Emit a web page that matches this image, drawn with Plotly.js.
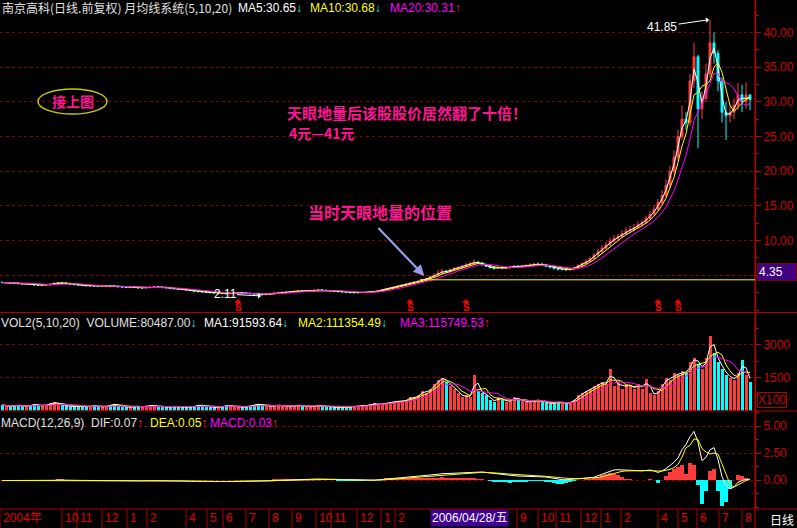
<!DOCTYPE html>
<html><head><meta charset="utf-8">
<script src="https://cdn.plot.ly/plotly-3.0.1.min.js"></script>
<style>html,body{margin:0;padding:0;background:#000;}#chart{width:797px;height:528px;}</style>
</head><body><div id="chart"></div>
<script>
// Each point ~ 2.8 trading days
const openP = [4.0,3.95,3.95,3.9,3.85,3.8,3.75,3.8,3.75,3.6,
3.55,3.6,3.65,3.7,3.85,3.95,3.9,3.8,3.7,3.65,
3.6,3.55,3.5,3.5,3.45,3.4,3.45,3.5,3.45,3.4,
3.35,3.3,3.25,3.3,3.25,3.2,3.2,3.25,3.3,3.35,
3.3,3.25,3.2,3.1,3.05,3.0,2.95,2.9,2.8,2.7,
2.65,2.6,2.55,2.5,2.45,2.45,2.4,2.35,2.4,2.45,
2.5,2.45,2.4,2.35,2.3,2.25,2.2,2.3,2.35,2.45,
2.5,2.55,2.6,2.65,2.7,2.75,2.7,2.7,2.75,2.85,
2.9,2.85,2.8,2.75,2.7,2.65,2.6,2.55,2.5,2.5,
2.5,2.55,2.55,2.6,2.65,2.8,2.95,3.1,3.2,3.35,
3.5,3.6,3.75,3.9,4.05,4.15,4.35,4.5,4.8,5.0,
5.3,5.6,5.5,5.8,6.0,6.1,6.3,6.5,6.7,6.9,
6.8,6.5,6.3,6.1,6.0,6.1,6.0,6.1,6.2,6.3,
6.2,6.3,6.4,6.5,6.6,6.6,6.5,6.3,6.2,6.0,
5.9,5.9,5.8,5.9,6.1,6.4,6.7,7.0,7.4,7.9,
8.4,8.9,9.4,9.9,10.3,10.6,11.0,11.4,11.6,11.9,
12.3,12.6,13.2,13.8,14.5,15.5,16.5,18.0,20.0,22.0,
25.0,27.5,27.0,33.0,36.5,29.0,30.5,34.0,38.5,37.0,
33.0,28.5,28.0,28.5,29.5,31.0,30.0,31.0];
const closeP = [3.95,3.95,3.9,3.85,3.8,3.75,3.8,3.75,3.6,3.55,
3.6,3.65,3.7,3.85,3.95,3.9,3.8,3.7,3.65,3.6,
3.55,3.5,3.5,3.45,3.4,3.45,3.5,3.45,3.4,3.35,
3.3,3.25,3.3,3.25,3.2,3.2,3.25,3.3,3.35,3.3,
3.25,3.2,3.1,3.05,3.0,2.95,2.9,2.8,2.7,2.65,
2.6,2.55,2.5,2.45,2.45,2.4,2.35,2.4,2.45,2.5,
2.45,2.4,2.35,2.3,2.25,2.2,2.3,2.35,2.45,2.5,
2.55,2.6,2.65,2.7,2.75,2.7,2.7,2.75,2.85,2.9,
2.85,2.8,2.75,2.7,2.65,2.6,2.55,2.5,2.5,2.5,
2.55,2.55,2.6,2.65,2.8,2.95,3.1,3.2,3.35,3.5,
3.6,3.75,3.9,4.05,4.15,4.35,4.5,4.8,5.0,5.3,
5.6,5.5,5.8,6.0,6.1,6.3,6.5,6.7,6.9,6.8,
6.5,6.3,6.1,6.0,6.1,6.0,6.1,6.2,6.3,6.2,
6.3,6.4,6.5,6.6,6.6,6.5,6.3,6.2,6.0,5.9,
5.9,5.8,5.9,6.1,6.4,6.7,7.0,7.4,7.9,8.4,
8.9,9.4,9.9,10.3,10.6,11.0,11.4,11.6,11.9,12.3,
12.6,13.2,13.8,14.5,15.5,16.5,18.0,20.0,22.0,25.0,
27.5,27.0,33.0,36.5,29.0,30.5,34.0,38.5,37.0,33.0,
28.5,28.0,28.5,29.5,31.0,30.0,31.0,30.3];
const highP = [4.1,4.05,4.05,4.0,3.95,3.9,3.9,3.9,3.85,3.7,
3.7,3.75,3.8,3.95,4.05,4.05,4.0,3.9,3.8,3.75,
3.7,3.65,3.6,3.6,3.55,3.55,3.6,3.6,3.55,3.5,
3.45,3.4,3.4,3.4,3.35,3.3,3.35,3.4,3.45,3.45,
3.4,3.35,3.3,3.2,3.15,3.1,3.05,3.0,2.9,2.8,
2.75,2.7,2.65,2.6,2.55,2.55,2.5,2.5,2.55,2.6,
2.6,2.55,2.5,2.45,2.4,2.35,2.4,2.45,2.55,2.6,
2.65,2.7,2.75,2.8,2.85,2.85,2.8,2.85,2.95,3.0,
3.0,2.95,2.9,2.85,2.8,2.75,2.7,2.65,2.6,2.6,
2.65,2.65,2.7,2.75,2.9,3.05,3.2,3.3,3.45,3.6,
3.7,3.85,4.0,4.15,4.3,4.45,4.65,5.0,5.3,5.8,
6.0,5.8,6.0,6.2,6.3,6.5,6.8,7.0,7.3,7.1,
6.9,6.7,6.5,6.3,6.3,6.3,6.3,6.4,6.5,6.5,
6.5,6.6,6.7,6.8,6.9,6.8,6.6,6.5,6.3,6.1,
6.1,6.0,6.1,6.3,6.6,6.9,7.3,7.7,8.2,8.8,
9.3,9.8,10.4,10.8,11.0,11.5,11.9,12.1,12.4,12.8,
13.0,13.6,14.3,15.1,16.0,17.3,18.8,20.8,23.0,26.0,
29.5,28.5,34.0,38.5,36.8,31.5,35.5,41.85,40.0,37.5,
33.5,30.0,29.5,30.5,32.7,32.5,32.8,31.0];
const lowP = [3.85,3.85,3.8,3.75,3.7,3.65,3.65,3.65,3.5,3.45,
3.45,3.5,3.55,3.6,3.75,3.8,3.7,3.6,3.55,3.5,
3.45,3.4,3.4,3.35,3.3,3.3,3.35,3.35,3.3,3.25,
3.2,3.15,3.15,3.15,3.1,3.1,3.1,3.15,3.2,3.2,
3.15,3.1,3.0,2.95,2.9,2.85,2.8,2.7,2.6,2.55,
2.5,2.45,2.4,2.35,2.35,2.3,2.25,2.25,2.3,2.35,
2.35,2.3,2.25,2.2,2.15,2.11,2.12,2.2,2.25,2.35,
2.4,2.45,2.5,2.55,2.6,2.6,2.6,2.6,2.65,2.75,
2.75,2.7,2.65,2.6,2.55,2.5,2.45,2.4,2.4,2.4,
2.4,2.45,2.45,2.5,2.55,2.7,2.85,3.0,3.1,3.25,
3.4,3.5,3.65,3.8,3.95,4.05,4.25,4.4,4.65,4.9,
5.2,5.3,5.4,5.6,5.8,6.0,6.1,6.3,6.5,6.6,
6.4,6.2,6.0,5.8,5.9,5.9,5.9,6.0,6.1,6.1,
6.1,6.2,6.3,6.4,6.4,6.3,6.2,6.0,5.8,5.7,
5.7,5.6,5.6,5.8,6.0,6.3,6.6,6.9,7.3,7.8,
8.2,8.7,9.2,9.7,10.0,10.4,10.8,11.1,11.3,11.7,
12.0,12.4,13.0,13.6,14.2,15.2,16.2,17.6,19.5,21.5,
24.5,26.0,26.5,32.0,23.3,27.5,30.0,33.5,35.5,31.5,
27.0,24.5,27.0,27.5,28.8,28.5,29.0,28.8];
// volume in units of 100 shares (axis "X100")
const volume = [250,200,180,220,260,200,180,240,300,220,
200,260,320,380,300,250,200,180,220,200,
180,160,200,240,180,150,200,260,300,220,
180,160,140,200,180,160,220,260,200,180,
160,140,180,200,160,140,180,160,200,260,
220,180,160,140,160,200,240,200,180,160,
150,180,220,260,300,240,200,180,220,260,
200,180,160,220,260,200,180,160,200,240,
200,180,150,160,140,150,160,180,200,220,
250,200,280,320,260,300,350,400,380,450,
400,500,600,550,700,900,800,1000,1200,1400,
1500,1300,1100,1000,800,600,700,600,1600,900,
800,700,500,400,600,500,400,450,600,500,
450,400,350,500,450,400,350,300,350,400,
350,300,400,500,700,800,900,1000,1100,1200,
1300,1200,1900,1100,1300,1000,1200,1100,1000,1200,
1000,1450,800,700,900,1200,1500,1400,1700,1600,
1800,1700,2200,2400,2100,1900,2400,3400,2600,2200,
1900,1600,1500,1400,1700,2300,1600,1300];
const dif = [-0.05,-0.05,-0.06,-0.06,-0.07,-0.07,-0.06,-0.06,-0.07,-0.08,
-0.08,-0.07,-0.05,-0.03,0.0,0.01,0.0,-0.02,-0.03,-0.04,
-0.05,-0.06,-0.06,-0.07,-0.07,-0.07,-0.06,-0.06,-0.06,-0.07,
-0.07,-0.08,-0.08,-0.08,-0.08,-0.08,-0.07,-0.06,-0.05,-0.05,
-0.06,-0.07,-0.08,-0.09,-0.1,-0.11,-0.12,-0.13,-0.14,-0.15,
-0.15,-0.15,-0.15,-0.15,-0.14,-0.14,-0.14,-0.13,-0.12,-0.11,
-0.1,-0.1,-0.1,-0.1,-0.11,-0.11,-0.1,-0.08,-0.06,-0.04,
-0.02,0.0,0.02,0.04,0.05,0.06,0.06,0.07,0.08,0.09,
0.08,0.07,0.06,0.04,0.02,0.0,-0.02,-0.04,-0.05,-0.05,
-0.05,-0.04,-0.03,-0.02,0.01,0.05,0.09,0.13,0.17,0.21,
0.24,0.27,0.3,0.33,0.35,0.38,0.4,0.44,0.48,0.53,
0.58,0.6,0.62,0.64,0.66,0.68,0.7,0.72,0.75,0.76,
0.74,0.7,0.65,0.6,0.55,0.5,0.46,0.42,0.4,0.37,
0.36,0.35,0.35,0.35,0.35,0.33,0.28,0.22,0.15,0.08,
0.03,0.02,0.05,0.08,0.12,0.15,0.18,0.2,0.25,0.4,
0.55,0.7,0.85,0.93,0.95,0.93,0.88,0.92,0.87,0.85,
0.85,0.88,0.93,0.85,0.7,0.85,1.05,1.35,1.65,2.05,
2.8,3.3,4.0,4.5,3.5,1.8,2.1,2.8,3.0,1.9,
0.3,-0.5,-0.8,-0.65,-0.2,-0.05,0.05,0.07];
const dea = [-0.05,-0.05,-0.05,-0.05,-0.06,-0.06,-0.06,-0.06,-0.06,-0.07,
-0.07,-0.07,-0.06,-0.05,-0.03,-0.02,-0.02,-0.02,-0.02,-0.03,
-0.04,-0.04,-0.05,-0.05,-0.06,-0.06,-0.06,-0.06,-0.06,-0.06,
-0.06,-0.07,-0.07,-0.07,-0.07,-0.07,-0.07,-0.07,-0.06,-0.06,
-0.06,-0.06,-0.07,-0.07,-0.08,-0.09,-0.1,-0.11,-0.12,-0.13,
-0.13,-0.14,-0.14,-0.14,-0.14,-0.14,-0.14,-0.14,-0.13,-0.13,
-0.12,-0.11,-0.11,-0.11,-0.11,-0.11,-0.11,-0.1,-0.09,-0.08,
-0.06,-0.05,-0.03,-0.01,0.0,0.02,0.03,0.04,0.05,0.06,
0.07,0.07,0.06,0.06,0.05,0.04,0.02,0.01,0.0,-0.01,
-0.02,-0.02,-0.02,-0.02,-0.01,0.0,0.02,0.05,0.08,0.11,
0.14,0.17,0.2,0.23,0.26,0.29,0.32,0.35,0.38,0.42,
0.45,0.49,0.52,0.55,0.58,0.6,0.62,0.65,0.67,0.7,
0.71,0.7,0.69,0.67,0.64,0.61,0.57,0.54,0.5,0.47,
0.45,0.42,0.41,0.39,0.38,0.37,0.35,0.33,0.3,0.25,
0.2,0.16,0.13,0.12,0.12,0.13,0.14,0.16,0.18,0.24,
0.3,0.4,0.52,0.63,0.72,0.8,0.84,0.86,0.87,0.87,
0.86,0.87,0.88,0.87,0.83,0.83,0.88,0.98,1.15,1.45,
2.1,3.0,3.2,3.8,3.75,2.9,2.6,2.4,2.5,2.4,
1.5,0.5,-0.4,-0.65,-0.45,-0.25,-0.05,0.05];
const monthLabels = ['2004年','10','11','12','1','2','4','5','6','7','8','9','10','11','12','1','2','9','10','11','12','1','2','4','5','6','7','8'];
const monthIdx = [-0.5,15,18.75,25,31.25,36.25,46,51.25,55.25,61,66.75,72.5,78.5,82.25,88.75,94.75,98.25,128.75,134,138.5,144.75,149.75,154.75,164,169,173.75,179.25,185];
const signalIdx = [59,102,116,164,169];
const priceTicks = [5,10,15,20,25,30,35,40];
const volTicks = [1500,3000];
const macdTicks = [0,2.5,5];

const xs = closeP.map((_, i) => i);
function ma(arr, w) {
  return arr.map((_, i) => { const s = Math.max(0, i - w + 1); let t = 0; for (let k = s; k <= i; k++) t += arr[k]; return t / (i - s + 1); });
}
// 5/10/20-day windows expressed in sample points (~2.8 days each)
const W5 = 2, W10 = 4, W20 = 7;
const RED = '#ff3c3c', CYAN = '#00ffff', AXR = '#c00000';
const up = closeP.map((c, i) => c >= openP[i]);
const macdHist = dif.map((d, i) => 2 * (d - dea[i]));

const traces = [
  {type:'candlestick', x:xs, open:openP, high:highP, low:lowP, close:closeP, xaxis:'x', yaxis:'y',
   increasing:{line:{color:RED,width:1}, fillcolor:RED}, decreasing:{line:{color:CYAN,width:1}, fillcolor:CYAN},
   whiskerwidth:0, hoverinfo:'skip'},
  {type:'scatter', mode:'lines', x:xs, y:ma(closeP,W5), line:{color:'#ffffff',width:1}, xaxis:'x', yaxis:'y'},
  {type:'scatter', mode:'lines', x:xs, y:ma(closeP,W10), line:{color:'#ffff00',width:1}, xaxis:'x', yaxis:'y'},
  {type:'scatter', mode:'lines', x:xs, y:ma(closeP,W20), line:{color:'#ff00ff',width:1}, xaxis:'x', yaxis:'y'},
  {type:'bar', x:xs, y:volume, width:0.75, marker:{color:up.map(u => u ? RED : CYAN), line:{width:0}}, xaxis:'x', yaxis:'y2'},
  {type:'scatter', mode:'lines', x:xs, y:ma(volume,W5), line:{color:'#ffffff',width:1}, xaxis:'x', yaxis:'y2'},
  {type:'scatter', mode:'lines', x:xs, y:ma(volume,W10), line:{color:'#ffff00',width:1}, xaxis:'x', yaxis:'y2'},
  {type:'scatter', mode:'lines', x:xs, y:ma(volume,W20), line:{color:'#ff00ff',width:1}, xaxis:'x', yaxis:'y2'},
  {type:'bar', x:xs, y:macdHist, width:1, marker:{color:macdHist.map(v => v >= 0 ? RED : CYAN), line:{width:0}}, xaxis:'x', yaxis:'y3'},
  {type:'scatter', mode:'lines', x:xs, y:dif, line:{color:'#ffffff',width:1}, xaxis:'x', yaxis:'y3'},
  {type:'scatter', mode:'lines', x:xs, y:dea, line:{color:'#ffff00',width:1}, xaxis:'x', yaxis:'y3'}
];

const PW = 755, PH = 508;
const px = v => v / PW, py = v => (PH - v) / PH;
const FONT = 'Liberation Sans, Arial, Noto Sans CJK SC, sans-serif';
const CJK = 'Noto Sans CJK SC, sans-serif';

function yAx(domain, range, ticks, text, minorD) {
  return {domain, range, side:'right', anchor:'x', tickmode:'array', tickvals:ticks, ticktext:text,
    showgrid:true, gridcolor:'#8a0000', griddash:'dot', gridwidth:1, zeroline:false,
    ticks:'outside', ticklen:5, tickcolor:AXR, showline:true, linecolor:AXR, linewidth:1,
    tickfont:{family:FONT, size:12, color:'#d00000'}, fixedrange:true,
    minor:{tickmode:'linear', tick0:0, dtick:minorD, ticks:'outside', ticklen:3, tickcolor:AXR, showgrid:false}};
}

const ann = [];
function txt(text, x, y, color, size, extra) {
  ann.push(Object.assign({text, x:px(x), y:py(y), xref:'paper', yref:'paper', xanchor:'left', yanchor:'middle',
    showarrow:false, font:{family:FONT, size:size || 12, color}}, extra || {}));
}
const dn = '<span style="color:#00ffff">↓</span>', upA = '<span style="color:#ff3030">↑</span>';
// header rows
txt('南京高科(日线.前复权) 月均线系统(5,10,20)', 0, 8, '#e0e0e0', 12, {font:{family:CJK, size:12, color:'#e0e0e0'}});
txt('MA5:30.65' + dn, 236, 8, '#ffffff');
txt('MA10:30.68' + dn, 308, 8, '#ffff00');
txt('MA20:30.31' + upA, 388, 8, '#ff00ff');
txt('VOL2(5,10,20)  VOLUME:80487.00' + dn, -1, 323, '#e0e0e0');
txt('MA1:91593.64' + dn, 202, 323, '#ffffff');
txt('MA2:111354.49' + dn, 296, 323, '#ffff00');
txt('MA3:115749.53' + upA, 398, 323, '#ff00ff');
txt('MACD(12,26,9)  DIF:0.07' + upA, -1, 423, '#e0e0e0');
txt('DEA:0.05' + upA, 148, 423, '#ffff00');
txt('MACD:0.03' + upA, 208, 423, '#ff00ff');
// chart commentary
const PINK = '#ff1493';
txt('<b>天眼地量后该股股价居然翻了十倍！</b>', 286, 112, PINK, 15, {borderpad:0, font:{family:CJK, size:15, color:PINK}});
txt('<b>4元—41元</b>', 288, 133, PINK, 14, {borderpad:0, font:{family:CJK, size:14, color:PINK}});
txt('<b>当时天眼地量的位置</b>', 306, 212, PINK, 16, {font:{family:CJK, size:16, color:PINK}});
txt('<b>接上图</b>', 50, 101, PINK, 14, {font:{family:CJK, size:14, color:PINK}});
// right-hand boxes
txt('4.35', 757, 272, '#ffffff', 12, {bgcolor:'#400080', bordercolor:'#800000', borderwidth:1, borderpad:1, width:36, align:'left'});
txt('X100', 757, 400, '#d00000', 12, {bordercolor:'#b00000', borderwidth:1, borderpad:0});
txt('日线', 768, 519, '#ffffff', 12, {font:{family:CJK, size:12, color:'#ffffff'}});
txt('2006/04/28/五', 430, 518, '#ffffff', 12, {bgcolor:'#400090', borderpad:1, font:{family:FONT + ', Noto Sans CJK SC', size:12, color:'#ffffff'}});
// month labels along the bottom
monthLabels.forEach((t, k) => {
  ann.push({text:t, x:monthIdx[k], xref:'x', y:py(518), yref:'paper', xanchor:'left', yanchor:'middle', xshift:1,
    showarrow:false, font:{family:FONT + ', Noto Sans CJK SC', size:12, color:'#e00000'}});
});
// sell signals: small triangle (shape) over a red S
signalIdx.forEach(i => {
  ann.push({text:'<b>S</b>', x:i, xref:'x', y:py(307.5), yref:'paper', showarrow:false, font:{family:FONT, size:10, color:'#ff0000'}, yanchor:'middle', borderpad:0});
});
// high / low markers
ann.push({text:'41.85', x:177, y:41.85, xref:'x', yref:'y', showarrow:true, ax:-48, ay:7, arrowcolor:'#ffffff', arrowwidth:1, arrowhead:1, arrowsize:1, standoff:1, font:{family:FONT, size:12, color:'#ffffff'}});
ann.push({text:'2.11', x:65, y:2.02, xref:'x', yref:'y', showarrow:true, ax:-37, ay:-2, borderpad:0, arrowcolor:'#ffffff', arrowwidth:1, arrowhead:1, arrowsize:1, standoff:1, font:{family:FONT, size:12, color:'#ffffff'}});
// pointer arrow
ann.push({text:' ', x:105.6, y:4.9, xref:'x', yref:'y', showarrow:true, ax:-49, ay:-51, arrowcolor:'#9a9aee', arrowwidth:2.2, arrowhead:2, arrowsize:1});

const shapes = [
  {type:'line', xref:'paper', yref:'paper', x0:0, x1:797/PW, y0:py(312.5), y1:py(312.5), line:{color:'#b00000', width:1}},
  {type:'line', xref:'paper', yref:'paper', x0:0, x1:797/PW, y0:py(411), y1:py(411), line:{color:'#b00000', width:1}},
  {type:'line', xref:'paper', yref:'paper', x0:0, x1:797/PW, y0:py(509), y1:py(509), line:{color:'#b00000', width:1}},
  {type:'line', xref:'paper', yref:'paper', x0:1, x1:1, y0:py(528), y1:1, line:{color:AXR, width:1}},
  {type:'line', xref:'x', yref:'y', x0:104.5, x1:188.25, y0:4.35, y1:4.35, line:{color:'#ffff00', width:1}},
  {type:'circle', xref:'paper', yref:'paper', x0:px(38), x1:px(107), y0:py(114), y1:py(89), line:{color:'#c8c800', width:1.5}}
];
signalIdx.forEach(i => shapes.push({type:'path', xref:'x', yref:'paper',
  path:`M ${i-0.7},${py(302.5)} L ${i},${py(299.5)} L ${i+0.7},${py(302.5)} Z`, fillcolor:'#ff0000', line:{color:'#ff0000', width:1}}));
monthIdx.forEach(i => shapes.push({type:'line', xref:'x', yref:'paper', x0:i, x1:i, y0:py(509), y1:py(528), line:{color:'#b00000', width:1}}));

const layout = {
  width:797, height:528, margin:{l:0, r:42, t:0, b:20, pad:0},
  paper_bgcolor:'#000000', plot_bgcolor:'#000000', showlegend:false, bargap:0,
  xaxis:{domain:[0,1], range:[-0.5,188.25], anchor:'y3', visible:false, showgrid:false, zeroline:false, rangeslider:{visible:false}, fixedrange:true},
  yaxis: yAx([py(310), 1], [0, 310/6.94], priceTicks, priceTicks.map(v => v === 5 ? '' : v.toFixed(2)), 2.5),
  yaxis2: yAx([py(410.5), py(312.5)], [0, (410.5-312.5)*1500/33], volTicks, volTicks.map(String), 750),
  yaxis3: yAx([0, py(411)], [-(508-480)/10.8, (480-411)/10.8], macdTicks, macdTicks.map(v => v.toFixed(2)), 1.25),
  annotations: ann, shapes
};
Plotly.newPlot('chart', traces, layout, {staticPlot:true, displayModeBar:false});
</script></body></html>
